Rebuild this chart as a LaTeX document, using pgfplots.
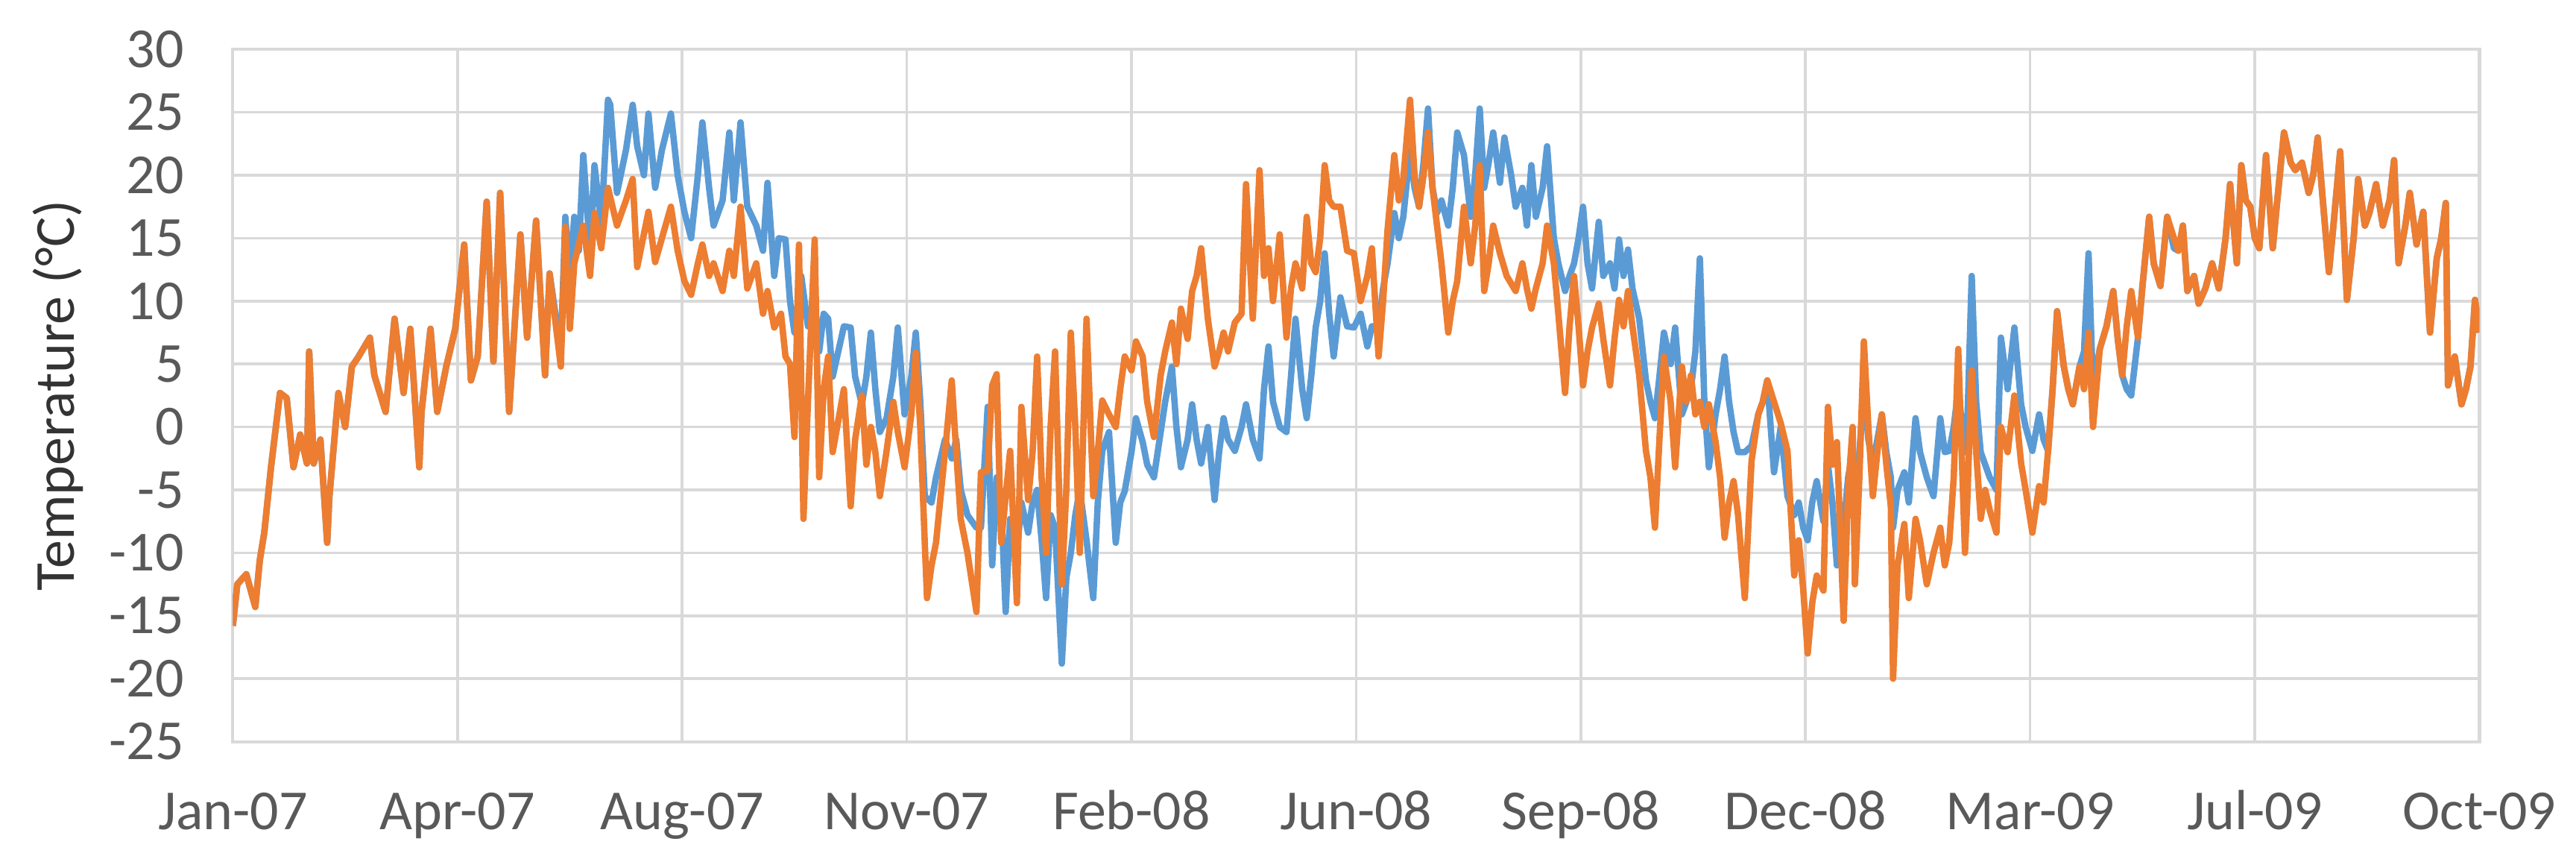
\documentclass[border=0pt]{standalone}
\usepackage{pgfplots}
\pgfplotsset{compat=1.18}
\usepackage{fontspec}
\setmainfont{Carlito}
\definecolor{xblue}{HTML}{5B9BD5}
\definecolor{xorange}{HTML}{ED7D31}
\definecolor{gridc}{HTML}{D9D9D9}
\definecolor{tickc}{HTML}{595959}
\begin{document}
\begin{tikzpicture}
\begin{axis}[name=ax, scale only axis, width=20.94cm, height=6.45cm,
  xmin=0, xmax=1000, ymin=-25, ymax=30,
  xtick={0,100,...,1000},
  xticklabels={Jan-07,Apr-07,Aug-07,Nov-07,Feb-08,Jun-08,Sep-08,Dec-08,Mar-09,Jul-09,Oct-09},
  ytick={-25,-20,...,30},
  yticklabels={-25,-20,-15,-10,-5,0,5,10,15,20,25,30},
  grid=major, major grid style={draw=gridc, line width=0.7pt},
  axis line style={draw=gridc, line width=0.8pt},
  tick style={draw=none},
  ticklabel style={font=\fontsize{15}{17}\selectfont, text=tickc},
  xticklabel style={anchor=base, inner sep=0pt, yshift=-0.82cm},
  yticklabel style={anchor=east, inner sep=0pt, xshift=-0.45cm},
  ylabel={Temperature (°C)},
  ylabel style={font=\fontsize{15}{17}\selectfont, text=black!80, at={(axis description cs:-0.0778,0.5)}, anchor=center},
  every axis plot/.append style={line width=1.7pt, line join=round, mark=none},
  clip=true,
]
% Series 1 (blue)
\addplot[xblue] coordinates {
(0,-15.8)(2,-12.5)(6,-11.7)(10,-14.3)(12,-10.6)(14,-8.4)(17,-3.2)(21,2.7)(24,2.3)(27,-3.2)(30,-0.6)(33,-2.9)(34,6)(36,-2.9)(39,-1)(42,-9.2)(43,-5.5)(47,2.7)(50,0)(53,4.8)(56,5.6)(61,7.1)(63,4.1)(68,1.2)(72,8.6)(76,2.7)(79,7.8)(83,-3.2)(84,1.2)(88,7.8)(91,1.2)(95,4.8)(99,7.8)(103,14.5)(106,3.7)(109,5.6)(113,17.9)(116,5.2)(119,18.6)(123,1.2)(128,15.3)(131,7.1)(135,16.4)(139,4.1)(141,12.2)
(146,6)(148,16.7)(150,12)(152,16.7)(154,14)(156,21.6)(159,14)(161,20.8)(164,16)(167,26)(168,25.6)(171,18.6)(175,22)(178,25.6)(180,22.3)(183,20)(185,24.9)(188,19)(191,22)(195,24.9)(198,20)(201,17.1)(204,15)(207,20)(209,24.2)(212,19)(214,16)(218,18)(221,23.4)(223,18)(226,24.2)(229,17.5)(233,16)(236,14)(238,19.4)(241,12)(243,15)(246,14.9)(248,10)(250,7.5)(253,12)(256,8)(259,10)(261,6)(263,9)(265,8.6)(267,4)(269,5.6)(272,8)(275,7.9)(277,4)(280,1.8)(282,4)(284,7.5)(286,3)(288,-0.4)(291,0.7)(294,4)(296,7.9)(299,1)(302,4)(304,7.5)(306,2)(308,-5.5)(311,-6)(313,-4)(317,-1)(320,-2.5)(322,-1)(324,-5)(327,-7)(331,-8)(333,-8)(336,1.6)(338,-11)(340,-4)(342,-6)(344,-14.7)(346,-7.3)(349,-10)(351,-6)(354,-8.4)(356,-6)(358,-5)(360,-9)(362,-13.6)(364,-7)(366,-8)(369,-18.8)(371,-12)(373,-10)(375,-7)(377,-5)(380,-9)(383,-13.6)(385,-6)(387,-1.9)(390,-0.4)(393,-9.2)(395,-6)(397,-5.1)(400,-2)(402,0.7)(405,-1.2)(407,-3)(410,-4)(413,-0.4)(415,2)(418,4.8)(420,0)(422,-3.2)(425,-1)(427,1.8)(429,-1)(431,-2.9)(434,0)(437,-5.8)(439,-2)(441,0.7)(443,-1)(446,-1.9)(449,0)(451,1.8)(454,-1)(457,-2.5)(459,3)(461,6.4)(463,2)(466,0)(469,-0.4)(471,4)(473,8.6)(476,3)(478,0.7)(480,4)(482,7.9)(484,10)(486,13.8)(488,9)(490,5.6)(493,10.3)(496,8)(499,7.9)(502,9)(505,6.4)(507,8)(510,8)(512,11)(514,13)(517,17)(519,15)(521,16.7)(524,22)(526,19)(528,17.5)(530,21)(532,25.3)(534,19)(536,17)(538,18)(541,16)(543,19)(545,23.4)(548,21.6)(551,16.7)(553,20)(555,25.3)(557,19)(559,21)(561,23.4)(564,19.4)(566,23)(569,20)(571,17.5)(574,19)(576,16)(578,20.8)(580,16.7)(583,19)(585,22.3)(588,15)(590,13)(593,10.8)(595,12)(597,13)(599,15)(601,17.5)(603,13)(605,11)(608,16.3)(610,12)(613,13)(615,11)(617,14.9)(619,12)(621,14.1)(623,11)(626,8.6)(629,3.7)(631,2)(633,0.7)(635,4)(637,7.5)(640,5)(642,7.9)(645,1)(647,2)(649,3)(651,6)(653,13.4)(655,2)(657,-3.2)(660,1)(662,3)(664,5.6)(666,2)(668,-0.4)(670,-2)(673,-2)(676,-1.5)(679,1)(681,2)(683,3.7)(686,-3.6)(689,0)(692,-5.5)(695,-7)(697,-6)(699,-8)(701,-9)(703,-6)(705,-4.3)(708,-7.5)(710,-3)(712,-6)(714,-11)(717,-8)(719,-4)(721,-2)(722,-6)(724,-2)(726,3)(728,-1)(730,-3)(732,-1)(734,1)(736,-2)(738,-4)(739,-8)(741,-5)(744,-3.6)(746,-6)(749,0.7)(751,-2)(754,-4)(757,-5.5)(760,0.7)(762,-2)(764,-1.9)(766,0)(768,3)(771,-2)(772,0)(774,12)(776,2)(778,-2)(780,-3)(782,-4)(785,-5)(787,7.1)(790,3)(793,7.9)(796,1.8)(798,0)(801,-1.9)(804,1)(806,-1)(808,-1.9)(810,3)(812,9.2)(815,4.8)(817,3)(819,1.8)(822,4.8)(824,6)(826,13.8)(828,3)(831,6.2)(834,8)(837,10.8)(839,7)(841,4.1)(843,3)(845,2.5)(848,7.1)(850,11.2)(853,16.7)(855,13)(858,11.2)(861,16.7)(864,14.2)(866,14)(868,16)
(870,10.8)(873,12)(875,9.8)(878,11)(881,13)(884,11)(887,15)(889,19.3)(892,13)(894,20.8)(896,18)(898,17.5)(900,15)(902,14.2)(905,21.6)(908,14.2)(910,18)(913,23.4)(916,21)(918,20.4)(921,21)(924,18.6)(926,20)(928,23)(930,18.6)(933,12.3)(935,16)(938,21.9)(941,10.1)(944,15)(946,19.7)(949,16)(951,17)(954,19.3)(957,16)(960,18)(962,21.2)(964,13)(967,16)(969,18.6)(972,14.5)(975,17.1)(978,7.5)(981,13.4)(983,15)(985,17.8)(986,3.3)(989,5.6)(992,1.8)(994,3)(996,4.8)(998,10.1)(1000,7.5)
};
% Series 2 (orange)
\addplot[xorange] coordinates {
(0,-15.8)(2,-12.5)(6,-11.7)(10,-14.3)(12,-10.6)(14,-8.4)(17,-3.2)(21,2.7)(24,2.3)(27,-3.2)(30,-0.6)(33,-2.9)(34,6)(36,-2.9)(39,-1)(42,-9.2)(43,-5.5)(47,2.7)(50,0)(53,4.8)(56,5.6)(61,7.1)(63,4.1)(68,1.2)(72,8.6)(76,2.7)(79,7.8)(83,-3.2)(84,1.2)(88,7.8)(91,1.2)(95,4.8)(99,7.8)(103,14.5)(106,3.7)(109,5.6)(113,17.9)(116,5.2)(119,18.6)(123,1.2)(128,15.3)(131,7.1)(135,16.4)(139,4.1)(141,12.2)(146,4.8)(148,15.9)(150,7.8)(152,13)(156,16)(159,12)(161,17)(164,14.2)(167,19)(171,16)(175,18)(178,19.7)(180,12.7)(185,17.1)(188,13.1)(191,15)(195,17.5)(198,14)(201,11.6)(204,10.5)(207,13)(209,14.5)(212,12)(214,13)(218,10.8)(221,14)(223,12)(226,17.5)(229,11)(233,13)(236,9)(238,10.8)(241,7.9)(244,9)(246,5.6)(248,5)(250,-0.8)(252,14.5)(254,-7.3)(256,2)(259,14.9)(261,-4)(263,3)(265,5.6)(267,-2)(269,0)(272,3)(275,-6.3)(277,-1)(280,2.5)(282,-3)(284,0)(286,-2)(288,-5.5)(291,-1.9)(294,2)(296,-0.4)(299,-3.2)(302,1)(304,5.9)(306,0)(308,-9.2)(309,-13.6)(311,-11)(313,-9.2)(317,-2)(320,3.7)(322,-2)(324,-7.3)(327,-10)(331,-14.7)(333,-3.6)(336,-3.5)(338,3.3)(340,4.2)(342,-9.2)(346,-1.9)(349,-14)(351,1.6)(354,-5.8)(356,-2)(358,5.6)(360,-4)(362,-10)(364,0)(366,6)(369,-12.5)(371,-5)(373,7.5)(375,0)(377,-10)(380,8.6)(383,-5.5)(385,-2)(387,2.1)(390,1)(393,0)(395,3)(397,5.6)(400,4.5)(402,6.8)(405,5.6)(407,2)(410,-0.8)(413,4.1)(415,6)(418,8.3)(420,5)(422,9.4)(425,7)(427,10.8)(429,12)(431,14.2)(434,8.6)(437,4.8)(439,6)(441,7.5)(443,6)(446,8.3)(449,9)(451,19.3)(454,8.6)(457,20.4)(459,12)(461,14.2)(463,10)(466,15.3)(469,7.1)(471,11)(473,13)(476,11)(478,16.7)(480,13)(482,12.3)(484,15)(486,20.8)(488,18)(490,17.5)(493,17.5)(496,14)(499,13.8)(502,10)(505,12)(507,14.2)(510,5.6)(512,10)(514,15.7)(517,21.6)(519,18)(521,19.7)(524,26)(526,20)(528,17.5)(530,20)(532,23.4)(534,19)(536,16)(538,13)(541,7.5)(543,10)(545,11.6)(548,17.5)(551,13)(553,16)(555,20.8)(557,10.8)(559,13)(561,16)(564,13.8)(567,12)(571,10.8)(574,13)(576,11)(578,9.4)(580,11)(583,13)(585,16)(588,13)(590,9)(593,2.7)(595,8)(597,12)(599,8)(601,3.3)(603,6)(605,7.9)(608,9.8)(610,7)(613,3.3)(615,7)(617,10.1)(619,8)(621,10.8)(623,8)(626,4.1)(629,-1.9)(631,-4)(633,-8)(635,-1)(637,5.6)(640,2)(642,-3.2)(645,4.8)(647,2)(649,4.1)(651,1)(653,2)(655,0)(657,1.8)(660,-1.2)(662,-4)(664,-8.8)(666,-6)(668,-4.3)(670,-7)(673,-13.6)(676,-2.7)(679,1)(681,2)(683,3.7)(686,2)(689,0.3)(692,-1.9)(695,-11.8)(697,-9)(699,-12.9)(701,-18)(703,-14)(705,-11.8)(708,-13)(710,1.6)(712,-3)(714,-1.2)(717,-15.4)(719,-5)(721,0)(722,-12.5)(724,-4)(726,6.8)(728,0)(730,-5.5)(732,-2)(734,1)(736,-3)(738,-6.3)(739,-20)(741,-11)(744,-7.7)(746,-13.6)(749,-7.3)(751,-9)(754,-12.5)(757,-10)(760,-8)(762,-11)(764,-9.2)(766,-4)(768,6.2)(771,-10)(772,-6)(774,4.5)(776,-2)(778,-7.3)(780,-5)(782,-6.6)(785,-8.4)(787,0)(790,-2)(793,2.5)(796,-2.9)(798,-5)(801,-8.4)(804,-4.7)(806,-6)(808,-1.9)(810,3)(812,9.2)(815,4.8)(817,3)(819,1.8)(822,4.8)(824,3)(826,7.5)(828,0)(831,6.2)(834,8)(837,10.8)(839,7)(841,4.1)(843,8)(845,10.8)(848,7.1)(850,11.2)(853,16.7)(855,13)(858,11.2)(861,16.7)(864,15)(866,14)(868,16)(870,10.8)(873,12)(875,9.8)(878,11)(881,13)(884,11)(887,15)(889,19.3)(892,13)(894,20.8)(896,18)(898,17.5)(900,15)(902,14.2)(905,21.6)(908,14.2)(910,18)(913,23.4)(916,21)(918,20.4)(921,21)(924,18.6)(926,20)(928,23)(930,18.6)(933,12.3)(935,16)(938,21.9)(941,10.1)(944,15)(946,19.7)(949,16)(951,17)(954,19.3)(957,16)(960,18)(962,21.2)(964,13)(967,16)(969,18.6)(972,14.5)(975,17.1)(978,7.5)(981,13.4)(983,15)(985,17.8)(986,3.3)(989,5.6)(992,1.8)(994,3)(996,4.8)(998,10.1)(1000,7.5)
};
\end{axis}
\path ([xshift=-2.17cm,yshift=-1.09cm]ax.south west) rectangle ([xshift=0.9cm,yshift=0.46cm]ax.north east);
\end{tikzpicture}
\end{document}
